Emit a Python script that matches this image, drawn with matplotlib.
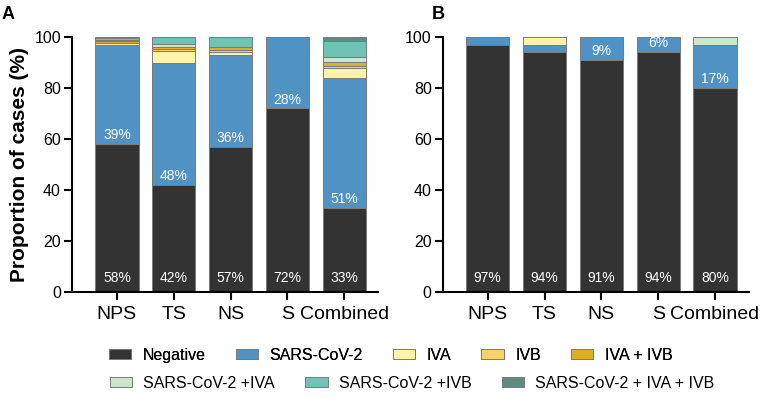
import numpy as np
import matplotlib.pyplot as plt
from matplotlib.patches import Patch

plt.rcParams['font.family'] = ['Liberation Sans', 'DejaVu Sans']

# sample types
samples = ["NPS", "TS", "NS", "S", "Combined"]

# result categories (stack order, bottom to top)
categories = ["Negative", "SARS-CoV-2", "IVA", "IVB", "IVA + IVB",
              "SARS-CoV-2 +IVA", "SARS-CoV-2 +IVB", "SARS-CoV-2 + IVA + IVB"]
colors = ["#333333", "#5192c4", "#fff3a8", "#f6d269", "#ddad2b",
          "#cbe7cb", "#6ec3b5", "#5f8b82"]

# panel A (%), one list per category
a_negative = [58, 42, 57, 72, 33]
a_sars = [39, 48, 36, 28, 51]
a_iva = [0.5, 4.5, 1.3, 0, 3.8]
a_ivb = [0.3, 0.8, 0.8, 0, 1.0]
a_iva_ivb = [0.6, 0.9, 0.9, 0, 1.5]
a_sars_iva = [0.3, 1.0, 0, 0, 2.0]
a_sars_ivb = [1.0, 2.8, 4.0, 0, 6.3]
a_sars_iva_ivb = [0.3, 0, 0, 0, 1.4]

# panel B (%)
b_negative = [97, 94, 91, 94, 80]
b_sars = [3, 3, 9, 6, 17]
b_iva = [0, 3, 0, 0, 0]
b_ivb = [0, 0, 0, 0, 0]
b_iva_ivb = [0, 0, 0, 0, 0]
b_sars_iva = [0, 0, 0, 0, 3]
b_sars_ivb = [0, 0, 0, 0, 0]
b_sars_iva_ivb = [0, 0, 0, 0, 0]

# labels printed on the bars
a_neg_labels = ["58%", "42%", "57%", "72%", "33%"]
a_sars_labels = ["39%", "48%", "36%", "28%", "51%"]
b_neg_labels = ["97%", "94%", "91%", "94%", "80%"]
b_sars_labels = ["", "", "9%", "6%", "17%"]

panel_a = [a_negative, a_sars, a_iva, a_ivb, a_iva_ivb, a_sars_iva, a_sars_ivb, a_sars_iva_ivb]
panel_b = [b_negative, b_sars, b_iva, b_ivb, b_iva_ivb, b_sars_iva, b_sars_ivb, b_sars_iva_ivb]

fig = plt.figure(figsize=(7.66, 3.99), dpi=100)
ax_a = fig.add_axes([0.094, 0.268, 0.40, 0.639])
ax_b = fig.add_axes([0.578, 0.268, 0.40, 0.639])


def draw_panel(ax, data, neg_labels, sars_labels):
    x = np.arange(len(samples))
    bottom = np.zeros(len(samples))
    for vals, col in zip(data, colors):
        vals = np.array(vals, dtype=float)
        ax.bar(x, vals, 0.76, bottom=bottom, color=col,
               edgecolor="#7a7a7a", linewidth=0.7)
        bottom += vals
    # white percentage labels
    neg = np.array(data[0], dtype=float)
    for i in range(len(samples)):
        ax.text(x[i], 5.5, neg_labels[i], color="white", ha="center",
                va="center", fontsize=10)
        if sars_labels[i]:
            ax.text(x[i], neg[i] + 3.5, sars_labels[i], color="white",
                    ha="center", va="center", fontsize=10)
    ax.set_xlim(-0.79, 4.6)
    ax.set_ylim(0, 100)
    ax.set_yticks([0, 20, 40, 60, 80, 100])
    ax.set_xticks(x)
    ax.set_xticklabels(samples, fontsize=14)
    ax.tick_params(axis="y", labelsize=11.5, width=1.5, length=6, pad=2)
    ax.tick_params(axis="x", width=1.5, length=6, pad=4)
    for side in ["top", "right"]:
        ax.spines[side].set_visible(False)
    for side in ["left", "bottom"]:
        ax.spines[side].set_linewidth(1.5)


draw_panel(ax_a, panel_a, a_neg_labels, a_sars_labels)
draw_panel(ax_b, panel_b, b_neg_labels, b_sars_labels)

ax_a.set_ylabel("Proportion of cases (%)", fontsize=15, fontweight="bold",
                labelpad=4)

fig.text(0.002, 0.985, "A", fontsize=13, fontweight="bold", va="top")
fig.text(0.563, 0.985, "B", fontsize=13, fontweight="bold", va="top")

handles = [Patch(facecolor=c, edgecolor="#7a7a7a", linewidth=0.7) for c in colors]
leg_kw = dict(loc="center", frameon=False, fontsize=11.5, handlelength=1.4,
              handleheight=0.65, handletextpad=0.7, columnspacing=1.9)
leg1 = fig.legend(handles[:5], categories[:5], ncol=5,
                  bbox_to_anchor=(0.51, 0.11), **leg_kw)
fig.add_artist(leg1)
fig.legend(handles[5:], categories[5:], ncol=3,
           bbox_to_anchor=(0.538, 0.04), **leg_kw)

fig.savefig("out.png", dpi=100)
